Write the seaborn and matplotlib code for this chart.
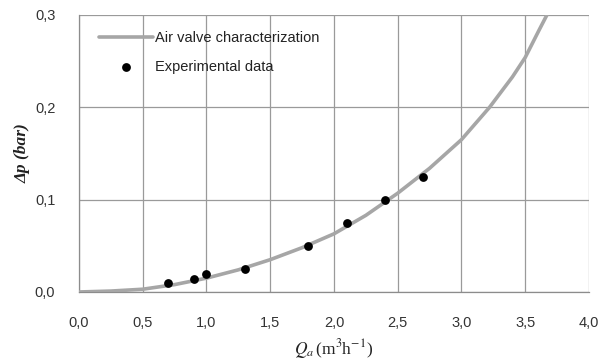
import matplotlib
matplotlib.use("Agg")
import matplotlib.pyplot as plt
import seaborn as sns
import pandas as pd
from matplotlib.ticker import FuncFormatter

# Curve: air valve characterization
curve_q = [0.0, 0.25, 0.5, 0.75, 1.0, 1.25, 1.5, 1.75, 2.0, 2.25, 2.5, 2.75, 3.0, 3.22, 3.4, 3.5, 3.61, 3.67]
curve_dp = [0.0, 0.001, 0.003, 0.008, 0.015, 0.024, 0.035, 0.048, 0.063, 0.083, 0.107, 0.134, 0.165, 0.200, 0.233, 0.254, 0.284, 0.300]

# Experimental data
exp_q = [0.7, 0.9, 1.0, 1.3, 1.8, 2.1, 2.4, 2.7]
exp_dp = [0.010, 0.014, 0.020, 0.025, 0.050, 0.075, 0.100, 0.125]

x_ticks = [0.0, 0.5, 1.0, 1.5, 2.0, 2.5, 3.0, 3.5, 4.0]
y_ticks = [0.0, 0.1, 0.2, 0.3]

sns.set_theme(style="white")
plt.rcParams['font.family'] = ['Liberation Sans', 'DejaVu Sans']
plt.rcParams['mathtext.fontset'] = 'stix'

fig = plt.figure(figsize=(6.01, 3.62), dpi=100)
ax = fig.add_axes([0.1314, 0.1934, 0.9800 - 0.1314, 0.9586 - 0.1934])

curve_df = pd.DataFrame({"q": curve_q, "dp": curve_dp})
exp_df = pd.DataFrame({"q": exp_q, "dp": exp_dp})

sns.lineplot(data=curve_df, x="q", y="dp", ax=ax, color="#a6a6a6", linewidth=2.6,
             label="Air valve characterization", zorder=3)
sns.scatterplot(data=exp_df, x="q", y="dp", ax=ax, color="black", s=40, edgecolor="black",
                linewidth=0, label="Experimental data", zorder=4)

ax.set_xlim(0, 4.0)
ax.set_ylim(0, 0.3)
ax.set_xticks(x_ticks)
ax.set_yticks(y_ticks)
ax.xaxis.set_major_formatter(FuncFormatter(lambda v, p: f"{v:.1f}".replace(".", ",")))
ax.yaxis.set_major_formatter(FuncFormatter(lambda v, p: f"{v:.1f}".replace(".", ",")))

ax.grid(True, color="#9a9a9a", linewidth=0.9)
ax.set_axisbelow(True)
for side in ["top", "right"]:
    ax.spines[side].set_visible(False)
for side in ["left", "bottom"]:
    ax.spines[side].set_color("#8c8c8c")
    ax.spines[side].set_linewidth(0.9)

ax.tick_params(axis="both", which="major", labelsize=10.5, colors="#8c8c8c",
               labelcolor="#333333", direction="out", length=5, width=0.9)
ax.tick_params(axis="x", direction="inout", length=6, pad=14)
ax.tick_params(axis="y", pad=12)

ax.set_xlabel(r"$Q_a\,$(m$^3$h$^{-1}$)", fontsize=12.5, family=["Liberation Serif"], color="#222222", labelpad=5)
ax.set_ylabel("Δp (bar)", fontsize=12.5, fontweight="bold", fontstyle="italic",
              family=["Liberation Serif"], color="#222222", labelpad=3)

leg = ax.legend(loc="upper left", frameon=False, fontsize=10.5, bbox_to_anchor=(0.014, 0.99),
                handlelength=3.7, handletextpad=0.15, labelspacing=1.05)
for t in leg.get_texts():
    t.set_color("#222222")

fig.savefig("out.png", dpi=100)
